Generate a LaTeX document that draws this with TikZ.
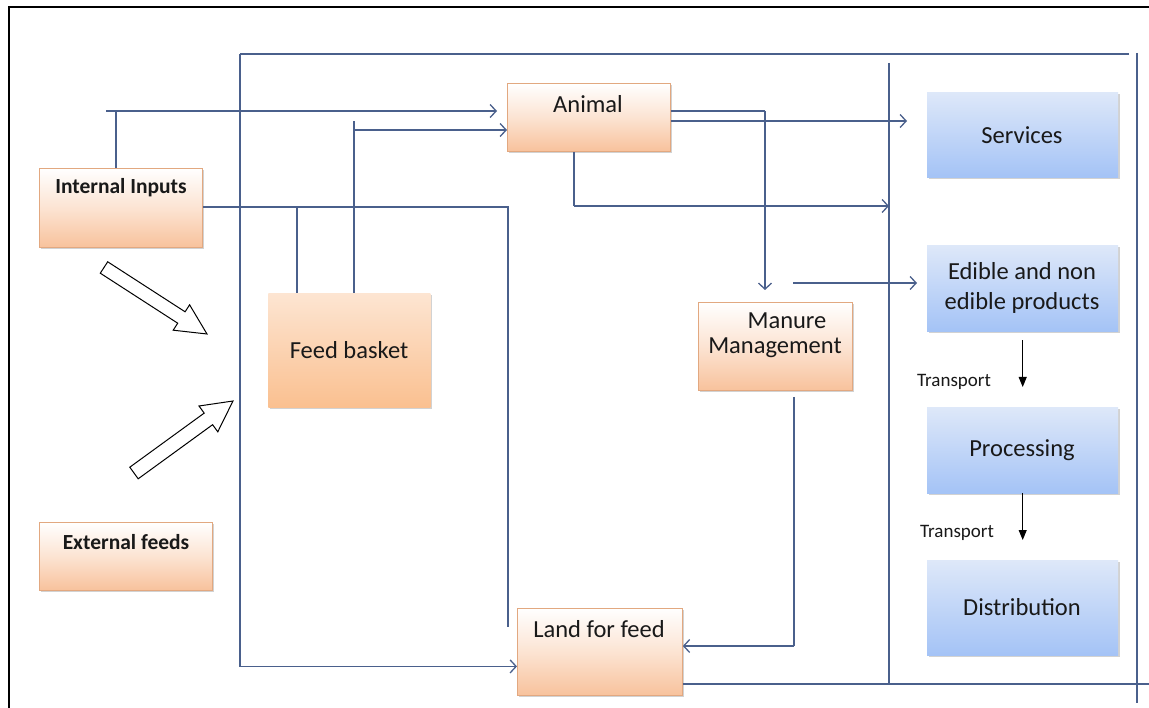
\documentclass[tikz,border=0pt]{standalone}
\usepackage{fontspec}
\setmainfont{Carlito}
\usetikzlibrary{arrows.meta,shadows,calc}
\definecolor{lnc}{RGB}{74,96,140}
\definecolor{peach}{RGB}{248,194,156}
\definecolor{peachtop}{RGB}{253,229,210}
\definecolor{peachfb}{RGB}{250,192,144}
\definecolor{peachedge}{RGB}{226,168,128}
\definecolor{bluetop}{RGB}{222,232,249}
\definecolor{bluebot}{RGB}{164,195,246}
\definecolor{txtc}{RGB}{25,25,25}
\tikzset{
  box/.style={rectangle, anchor=north west, inner sep=0pt, draw=peachedge, line width=0.8pt,
    drop shadow={shadow xshift=2pt, shadow yshift=-2pt, opacity=0.35}},
  obox/.style={box, top color=white, bottom color=peach, middle color=white!55!peach},
  fbox/.style={box, draw=none, top color=peachtop, bottom color=peachfb},
  bbox/.style={rectangle, anchor=north west, inner sep=0pt, top color=bluetop, bottom color=bluebot,
    drop shadow={shadow xshift=2pt, shadow yshift=-2pt, opacity=0.35}},
  lbl/.style={text=txtc, inner sep=0pt, font=\fontsize{24.5}{30}\selectfont},
  lblb/.style={text=txtc, inner sep=0pt, font=\fontsize{21.5}{26}\selectfont\bfseries},
  tlbl/.style={text=txtc, inner sep=0pt, font=\fontsize{19}{22}\selectfont},
  lnk/.style={draw=lnc, line width=1.3pt},
  arr/.style={lnk, -{Straight Barb[length=6pt,width=13pt,line width=1.3pt]}},
  barr/.style={draw=black, line width=1pt, -{Triangle[length=10pt,width=8pt]}},
  hollow/.style={draw=black, line width=1pt, fill=white, line join=miter},
}
\begin{document}
\begin{tikzpicture}[x=1pt,y=-1pt]
\useasboundingbox (0,0) rectangle (1149,708);
\fill[white] (0,0) rectangle (1149,708);
% outer border
\draw[black, line width=2.5pt] (9,708) -- (9,7) -- (1149,7);

% boxes
\node[obox, minimum width=163pt, minimum height=79pt] (ii) at (39,168) {};
\node[obox, minimum width=173pt, minimum height=68pt] (ef) at (39,522) {};
\node[fbox, minimum width=162pt, minimum height=114pt] (fb) at (268,293) {};
\node[obox, minimum width=163pt, minimum height=68pt] (an) at (507,83) {};
\node[obox, minimum width=154pt, minimum height=88pt] (mm) at (698,302) {};
\node[obox, minimum width=165pt, minimum height=87pt] (ld) at (517,608) {};
\node[bbox, minimum width=191pt, minimum height=85pt] (sv) at (927,92) {};
\node[bbox, minimum width=191pt, minimum height=86pt] (ed) at (927,245) {};
\node[bbox, minimum width=191pt, minimum height=86pt] (pr) at (927,407) {};
\node[bbox, minimum width=191pt, minimum height=95pt] (di) at (927,560) {};

% texts
\node[lblb] (iit) at (121,188) {Internal Inputs};
\node[lblb] (eft) at (126,542) {External feeds};
\node[lbl] (fbt) at (349,350) {Feed basket};
\node[lbl] (ant) at (588,104) {Animal};
\node[lbl] (mmt1) at (787,321) {Manure};
\node[lbl] (mmt2) at (775,348) {Management};
\node[lbl] (ldt) at (599,629) {Land for feed};
\node[lbl] (svt) at (1022,135) {Services};
\node[lbl, align=center] (edt) at (1022,288) {Edible and non\\edible products};
\node[lbl] (prt) at (1022,450) {Processing};
\node[lbl] (dit) at (1022,607) {Distribution};
\node[tlbl] (tr1) at (954,382) {Transport};
\node[tlbl] (tr2) at (957,533) {Transport};

% junction coordinates
\coordinate (tl) at (240,54);
\coordinate (tr) at (1129,54);
\coordinate (rv1) at (889,63);
\coordinate (rv2) at (1137,53);

% connectors
\draw[lnk] (tr) -- (tl);
\draw[arr] (tl) |- ([yshift=-14.5pt]ld.west);
\draw[lnk] (ii.north -| 116,0) -- (116,111);
\draw[arr] (106,111) -- ([xshift=-10pt]an.west |- 0,111);
\draw[lnk] (fb.north -| 354,0) -- (354,121);
\draw[arr] (354,130) -- (an.west |- 0,130);
\draw[lnk] (ii.east |- 0,207) -- (508,207) -- (508,627);
\draw[lnk] (297,207) -- (fb.north -| 297,0);
\draw[lnk] (an.east |- 0,111) -- (765,111);
\draw[arr] (765,111) -- ([yshift=12pt]mm.north -| 765,0);
\draw[arr] (an.east |- 0,121) -- ([xshift=-20pt]sv.west |- 0,121);
\draw[lnk] (an.south -| 574,0) -- (574,206);
\draw[arr] (574,206) -- (rv1 |- 0,206);
\draw[arr] (793,283) -- ([xshift=-10pt]ed.west |- 0,283);
\draw[lnk] (794,397) -- (794,646);
\draw[arr] (794,646) -- (ld.east |- 0,646);
\draw[lnk] (ld.east |- 0,684) -- (1149,684);
\draw[lnk] (rv1) -- (889,684);
\draw[lnk] (rv2) -- (1137,703);

% black arrows
\draw[barr] ([yshift=-9pt]ed.south) -- ([yshift=20pt]pr.north);
\draw[barr] (pr.south) -- ([yshift=20pt]di.north);

% hollow block arrows
\draw[hollow] (100.3,273.2) -- (107.7,261.8) -- (185.1,311.8) -- (189.6,304.8) -- (207,334) -- (173.2,330.2) -- (177.7,323.2) -- cycle;
\draw[hollow] (129.8,467.2) -- (204.2,413.1) -- (199.0,406.0) -- (233,401) -- (217.8,431.8) -- (212.6,424.7) -- (138.2,478.8) -- cycle;
\end{tikzpicture}
\end{document}
